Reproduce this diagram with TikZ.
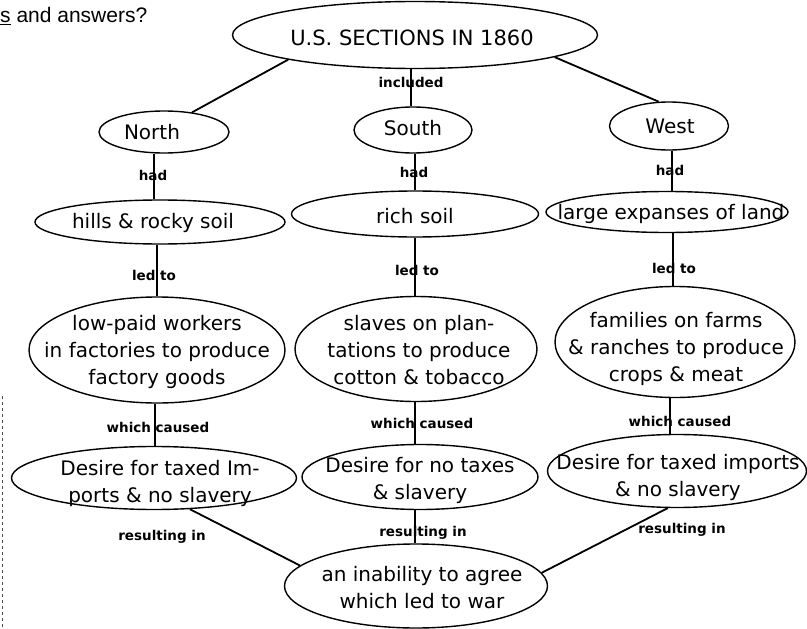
\documentclass[tikz,border=0pt]{standalone}
\usepackage{fontspec}
\setmainfont{DejaVu Sans}
\newfontfamily\headfont{Liberation Sans}
\usetikzlibrary{shapes.geometric}
\begin{document}
\begin{tikzpicture}[x=1pt,y=-1pt,
  oval/.style={ellipse, draw, line width=1.4pt, inner sep=0pt},
  txt/.style={inner sep=0pt, align=center, font=\fontsize{20}{27}\selectfont},
  conn/.style={line width=1.8pt},
  lab/.style={font=\bfseries\fontsize{13.5}{16}\selectfont, inner sep=0pt}]
\useasboundingbox (0,0) rectangle (807,629);
% header and page edge
\node[anchor=base west, inner sep=0pt, font=\headfont\fontsize{21}{24}\selectfont] (head) at (0,23) {\underline{s} and answers?};
\coordinate (edgeA) at (2,396);
\coordinate (edgeB) at (2,629);
\draw[dashed, line width=0.8pt, black!70] (edgeA) -- (edgeB);
% column coordinates
\coordinate (cS0) at (411,0);
\coordinate (cN1) at (154,0);
\coordinate (cN2) at (157,0);
\coordinate (cN3) at (155,0);
\coordinate (cS) at (415,0);
\coordinate (cW1) at (672,0);
\coordinate (cW2) at (673,0);
\coordinate (cW3) at (670,0);
% ellipses
\node[oval, minimum width=365pt, minimum height=67pt] (top) at (415,35) {};
\node[oval, minimum width=130pt, minimum height=42pt] (north) at (164,132) {};
\node[oval, minimum width=118pt, minimum height=46pt] (south) at (413,130) {};
\node[oval, minimum width=119pt, minimum height=48pt] (west) at (669,126) {};
\node[oval, minimum width=250pt, minimum height=44pt] (hills) at (160,222) {};
\node[oval, minimum width=247pt, minimum height=46pt] (rich) at (415,214) {};
\node[oval, minimum width=242pt, minimum height=41pt] (large) at (667,212) {};
\node[oval, minimum width=256pt, minimum height=106pt] (low) at (157,350) {};
\node[oval, minimum width=242pt, minimum height=105pt] (slaves) at (416,349) {};
\node[oval, minimum width=240pt, minimum height=111pt] (families) at (675,342) {};
\node[oval, minimum width=285pt, minimum height=63pt] (desN) at (154,478) {};
\node[oval, minimum width=236pt, minimum height=65pt] (desS) at (420,477) {};
\node[oval, minimum width=259pt, minimum height=73pt] (desW) at (677,471) {};
\node[oval, minimum width=263pt, minimum height=84pt] (inab) at (416,586) {};
% texts
\node[txt, font=\fontsize{21}{25}\selectfont] (topT) at (412,38) {U.S. SECTIONS IN 1860};
\node[txt] (northT) at (152,132) {North};
\node[txt] (southT) at (413,128) {South};
\node[txt] (westT) at (670,126) {West};
\node[txt] (hillsT) at (153,223) {hills \& rocky soil};
\node[txt] (richT) at (415,216) {rich soil};
\node[txt] (largeT) at (671,214) {large expanses of land};
\node[txt] (lowT) at (157,352) {low-paid workers\\in factories to produce\\factory goods};
\node[txt] (slavesT) at (419,350) {slaves on plan-\\tations to produce\\cotton \& tobacco};
\node[txt] (familiesT) at (676,349) {families on farms\\\& ranches to produce\\crops \& meat};
\node[txt] (desNT) at (160,483) {Desire for taxed Im-\\ports \& no slavery};
\node[txt] (desST) at (420,480) {Desire for no taxes\\\& slavery};
\node[txt] (desWT) at (678,477) {Desire for taxed imports\\\& no slavery};
\node[txt] (inabT) at (422,588) {an inability to agree\\which led to war};
% connectors
\draw[conn] (top.191) -- (north.35);
\draw[conn] (top.351) -- (west.113);
\draw[conn] (top.south -| cS0) -- (south.north -| cS0);
\draw[conn] (north.south -| cN1) -- (hills.north -| cN1);
\draw[conn] (south.south -| cS) -- (rich.north -| cS);
\draw[conn] (west.south -| cW1) -- (large.north -| cW1);
\draw[conn] (hills.south -| cN2) -- (low.north -| cN2);
\draw[conn] (rich.south -| cS) -- (slaves.north -| cS);
\draw[conn] (large.south -| cW2) -- (families.north -| cW2);
\draw[conn] (low.south -| cN3) -- (desN.north -| cN3);
\draw[conn] (slaves.south -| cS) -- (desS.north -| cS);
\draw[conn] (families.south -| cW3) -- (desW.north -| cW3);
\draw[conn] (desN.319) -- (inab.170);
\draw[conn] (desS.south -| cS) -- (inab.north -| cS);
\draw[conn] (desW.256) -- (inab.6);
% labels
\node[lab] (l1) at (411,82) {included};
\node[lab] (l2) at (153,175) {had};
\node[lab] (l3) at (414,172) {had};
\node[lab] (l4) at (670,170) {had};
\node[lab] (l5) at (154,275) {led to};
\node[lab] (l6) at (417,270) {led to};
\node[lab] (l7) at (674,268) {led to};
\node[lab] (l8) at (158,427) {which caused};
\node[lab] (l9) at (422,423) {which caused};
\node[lab] (l10) at (680,421) {which caused};
\node[lab] (l11) at (162,537) {resulting in};
\node[lab] (l12) at (423,533) {resulting in};
\node[lab] (l13) at (682,530) {resulting in};
\end{tikzpicture}
\end{document}
